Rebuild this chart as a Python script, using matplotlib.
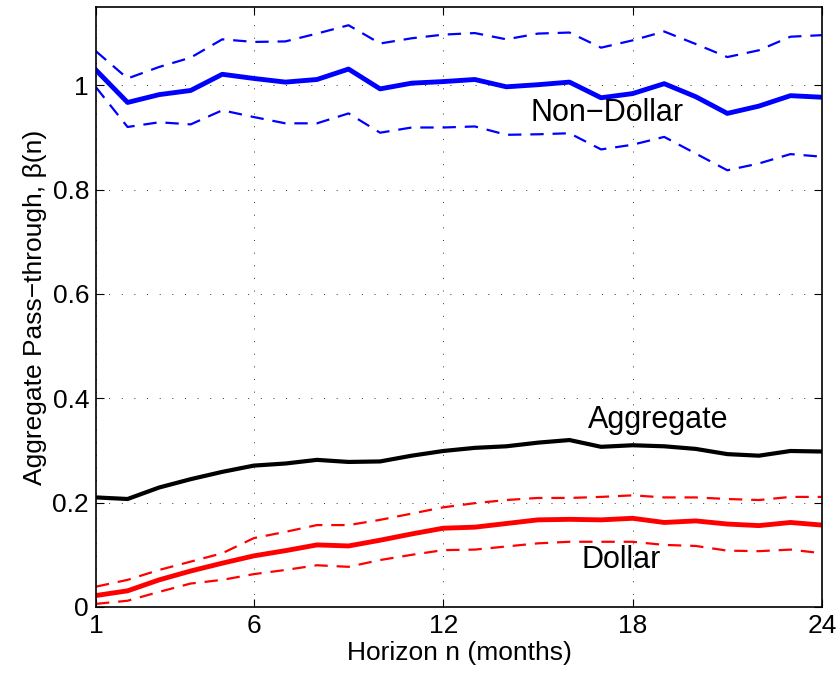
import numpy as np
import matplotlib
matplotlib.use("Agg")
import matplotlib.pyplot as plt

plt.rcParams['font.family'] = ['Liberation Sans', 'DejaVu Sans']

# horizon in months
n = np.arange(1, 25)

# non-dollar pass-through with bands
nondollar = [1.029, 0.967, 0.982, 0.990, 1.021, 1.013, 1.006, 1.011, 1.031, 0.993, 1.004, 1.007,
             1.011, 0.997, 1.001, 1.006, 0.976, 0.984, 1.003, 0.978, 0.946, 0.960, 0.980, 0.977]
nondollar_hi = [1.065, 1.013, 1.035, 1.053, 1.088, 1.083, 1.084, 1.099, 1.115, 1.080, 1.090, 1.097,
                1.100, 1.088, 1.099, 1.101, 1.072, 1.086, 1.103, 1.079, 1.054, 1.067, 1.093, 1.096]
nondollar_lo = [0.996, 0.920, 0.929, 0.925, 0.952, 0.939, 0.927, 0.927, 0.946, 0.909, 0.919, 0.919,
                0.921, 0.905, 0.906, 0.908, 0.877, 0.886, 0.901, 0.869, 0.837, 0.850, 0.868, 0.863]

# aggregate pass-through
aggregate = [0.210, 0.207, 0.229, 0.245, 0.259, 0.271, 0.275, 0.282, 0.278, 0.279, 0.290, 0.299,
             0.305, 0.308, 0.315, 0.320, 0.307, 0.310, 0.308, 0.303, 0.293, 0.290, 0.299, 0.298]

# dollar pass-through with bands
dollar = [0.022, 0.031, 0.052, 0.069, 0.084, 0.098, 0.108, 0.119, 0.117, 0.128, 0.140, 0.151,
          0.153, 0.160, 0.167, 0.168, 0.167, 0.170, 0.162, 0.165, 0.159, 0.156, 0.162, 0.157]
dollar_hi = [0.039, 0.052, 0.071, 0.087, 0.103, 0.132, 0.144, 0.157, 0.157, 0.167, 0.179, 0.191,
             0.199, 0.205, 0.209, 0.209, 0.211, 0.214, 0.210, 0.210, 0.207, 0.205, 0.211, 0.211]
dollar_lo = [0.006, 0.012, 0.029, 0.045, 0.052, 0.063, 0.071, 0.080, 0.077, 0.090, 0.100, 0.109,
             0.110, 0.116, 0.122, 0.125, 0.125, 0.125, 0.119, 0.117, 0.108, 0.107, 0.110, 0.103]

xticks = [1, 6, 12, 18, 24]
yticks = [0, 0.2, 0.4, 0.6, 0.8, 1]
ytick_labels = ['0', '0.2', '0.4', '0.6', '0.8', '1']

fig = plt.figure(figsize=(8.4, 6.77), dpi=100)
ax = fig.add_axes([0.1143, 0.1034, 0.8643, 0.8863])

dash = (0, (6, 4))
ax.plot(n, nondollar, color='#0000ff', lw=3.5)
ax.plot(n, nondollar_hi, color='#0000ff', lw=1.6, linestyle=dash)
ax.plot(n, nondollar_lo, color='#0000ff', lw=1.6, linestyle=dash)
ax.plot(n, aggregate, color='black', lw=3)
ax.plot(n, dollar, color='#ff0000', lw=3.5)
ax.plot(n, dollar_hi, color='#ff0000', lw=1.6, linestyle=dash)
ax.plot(n, dollar_lo, color='#ff0000', lw=1.6, linestyle=dash)

ax.text(17.2, 0.946, 'Non\u2212Dollar', fontsize=22, ha='center', va='center')
ax.text(18.8, 0.358, 'Aggregate', fontsize=22, ha='center', va='center')
ax.text(17.65, 0.090, 'Dollar', fontsize=22, ha='center', va='center')

ax.set_xlim(1, 24)
ax.set_ylim(0, 1.15)
ax.set_xticks(xticks)
ax.set_yticks(yticks)
ax.set_yticklabels(ytick_labels)
ax.tick_params(direction='in', length=6, width=0.8, top=True, right=True, labelsize=19, pad=5)
ax.grid(True, color='#333333', linestyle=(0, (1, 12)), linewidth=0.7)
for s in ax.spines.values():
    s.set_linewidth(1.2)

ax.set_xlabel('Horizon n (months)', fontsize=19, labelpad=2)
ax.set_ylabel('Aggregate Pass\u2212through, \u03b2(n)', fontsize=19, labelpad=4)

fig.savefig('out.png', dpi=100)
